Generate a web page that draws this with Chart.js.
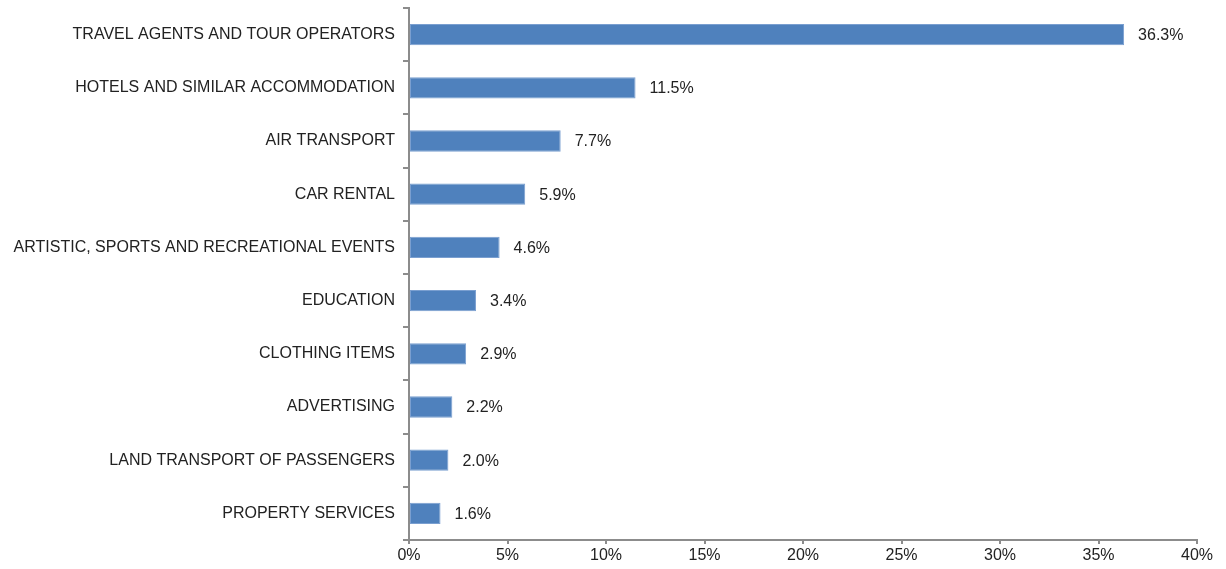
<!DOCTYPE html>
<html>
<head>
<meta charset="utf-8">
<script src="https://cdn.jsdelivr.net/npm/chart.js@4/dist/chart.umd.min.js"></script>
<style>
  html, body { margin: 0; padding: 0; background: #ffffff; }
  #wrap { width: 1226px; height: 569px; position: relative; }
</style>
</head>
<body>
<div id="wrap"><canvas id="c" width="1226" height="569"></canvas></div>
<script>
const categories = [
  "TRAVEL AGENTS AND TOUR OPERATORS",
  "HOTELS AND SIMILAR ACCOMMODATION",
  "AIR TRANSPORT",
  "CAR RENTAL",
  "ARTISTIC, SPORTS AND RECREATIONAL EVENTS",
  "EDUCATION",
  "CLOTHING ITEMS",
  "ADVERTISING",
  "LAND TRANSPORT OF PASSENGERS",
  "PROPERTY SERVICES"
];
const shares = [36.3, 11.5, 7.7, 5.9, 4.6, 3.4, 2.9, 2.2, 2.0, 1.6];
const xTicks = [0, 5, 10, 15, 20, 25, 30, 35, 40];

const FONT = "'Liberation Sans', Arial, sans-serif";
const TEXT = "#222222";
const AXIS = "#8c8c8c";

const valueLabels = {
  id: "valueLabels",
  afterDatasetsDraw(chart) {
    const ctx = chart.ctx;
    const meta = chart.getDatasetMeta(0);
    ctx.save();
    ctx.font = "16px " + FONT;
    ctx.fillStyle = TEXT;
    ctx.textAlign = "left";
    ctx.textBaseline = "middle";
    meta.data.forEach((bar, i) => {
      ctx.fillText(shares[i].toFixed(1) + "%", bar.x + 14, bar.y + 1);
    });
    ctx.restore();
  }
};

new Chart(document.getElementById("c"), {
  type: "bar",
  data: {
    labels: categories,
    datasets: [{
      data: shares,
      backgroundColor: "#4f81bd",
      borderColor: "#7a9fd0",
      borderWidth: 1,
      borderSkipped: false,
      categoryPercentage: 1.0,
      barPercentage: 0.4
    }]
  },
  options: {
    indexAxis: "y",
    responsive: false,
    animation: false,
    events: [],
    layout: { padding: { left: 0, right: 29, top: 8, bottom: 0 } },
    plugins: { legend: { display: false }, tooltip: { enabled: false } },
    scales: {
      x: {
        min: 0, max: 40,
        afterBuildTicks(scale) { scale.ticks = xTicks.map(v => ({ value: v })); },
        afterFit(scale) { scale.height = 29; scale.paddingLeft = 0; scale.paddingRight = 0; },
        border: { color: AXIS, width: 2 },
        grid: { drawOnChartArea: false, drawTicks: true, tickLength: 4, color: AXIS, lineWidth: 2 },
        ticks: {
          color: TEXT, font: { family: FONT, size: 16 }, padding: 2,
          maxRotation: 0,
          callback: (v) => v + "%"
        }
      },
      y: {
        afterFit(scale) { scale.width = 409; scale.paddingTop = 0; scale.paddingBottom = 0; },
        border: { color: AXIS, width: 2 },
        grid: { drawOnChartArea: false, drawTicks: true, tickLength: 6, color: AXIS, lineWidth: 2, offset: true },
        ticks: { color: TEXT, font: { family: FONT, size: 16 }, padding: 8, autoSkip: false }
      }
    }
  },
  plugins: [valueLabels]
});
</script>
</body>
</html>
